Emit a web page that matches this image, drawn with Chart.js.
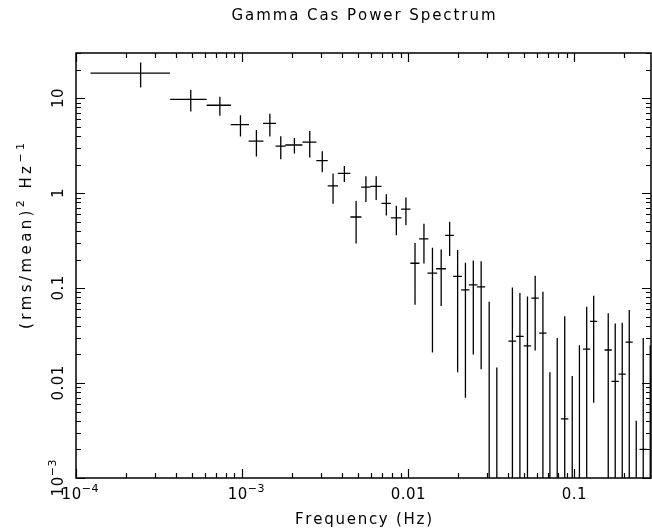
<!DOCTYPE html>
<html>
<head>
<meta charset="utf-8">
<script src="https://cdn.jsdelivr.net/npm/chart.js@4.4.1/dist/chart.umd.min.js"></script>
<style>
  html, body { margin: 0; padding: 0; background: #fff; }
  #wrap { width: 652px; height: 531px; position: relative; }
</style>
</head>
<body>
<div id="wrap"><canvas id="c" width="652" height="531"></canvas></div>
<script>
// ---- data (frequency in Hz, power in (rms/mean)^2 Hz^-1) ----
const freq = [2.45e-4, 4.91e-4, 7.35e-4, 9.78e-4, 1.22e-3, 1.47e-3, 1.71e-3, 2.066e-3, 2.556e-3, 3.04e-3,
  3.53e-3, 4.13e-3, 4.86e-3, 5.57e-3, 6.42e-3, 7.39e-3, 8.49e-3, 9.70e-3, 1.10e-2, 1.245e-2,
  1.401e-2, 1.581e-2, 1.778e-2, 1.986e-2, 2.213e-2, 2.468e-2, 2.752e-2, 3.076e-2, 3.42e-2, 4.245e-2,
  4.71e-2, 5.23e-2, 5.82e-2, 6.48e-2, 7.14e-2, 7.90e-2, 8.77e-2, 9.73e-2, 0.1075, 0.1189,
  0.1310, 0.1603, 0.1766, 0.1946, 0.2145, 0.2363, 0.2604, 0.2870];
const freqErr = [1.227e-4, 1.22e-4, 1.23e-4, 1.23e-4, 1.25e-4, 1.32e-4, 1.2e-4, 2.43e-4, 2.47e-4, 2.4e-4,
  2.52e-4, 3.6e-4, 3.7e-4, 3.6e-4, 4.9e-4, 4.8e-4, 6.2e-4, 6.3e-4, 6.9e-4, 8.0e-4,
  9.4e-4, 1.06e-3, 1.07e-3, 1.2e-3, 1.27e-3, 1.47e-3, 1.58e-3, 1.7e-3, 1.9e-3, 2.27e-3,
  2.5e-3, 2.7e-3, 3.0e-3, 3.3e-3, 3.6e-3, 4.0e-3, 4.6e-3, 4.9e-3, 5.4e-3, 6.0e-3,
  6.6e-3, 8.0e-3, 9.0e-3, 9.7e-3, 1.07e-2, 1.18e-2, 1.3e-2, 1.43e-2];
const power = [18.4, 9.75, 8.45, 5.29, 3.53, 5.43, 3.13, 3.22, 3.45, 2.21,
  1.195, 1.62, 0.562, 1.16, 1.18, 0.78, 0.55, 0.68, 0.183, 0.33,
  0.144, 0.16, 0.36, 0.133, 0.096, 0.108, 0.103, -0.005, -0.01, 0.0277,
  0.031, 0.0247, 0.0785, 0.0336, -0.01, -0.005, 0.0042, -0.01, -0.008, 0.0228,
  0.0446, 0.0223, 0.0104, 0.0124, 0.027, -0.02, 0.002, -0.005];
const powerErr = [5.4, 2.5, 1.9, 1.33, 1.1, 1.46, 0.85, 0.6, 1.07, 0.55,
  0.42, 0.31, 0.267, 0.35, 0.33, 0.197, 0.19, 0.22, 0.116, 0.148,
  0.123, 0.095, 0.142, 0.12, 0.089, 0.088, 0.089, 0.077, 0.0246, 0.074,
  0.0577, 0.057, 0.0565, 0.0578, 0.023, 0.0348, 0.0465, 0.0219, 0.033, 0.0408,
  0.0384, 0.032, 0.032, 0.0307, 0.0317, 0.024, 0.0278, 0.030];

const xTickValues = [1e-4, 1e-3, 0.01, 0.1];
const xTickText = ['10', '10', '0.01', '0.1'];
const xTickSup = ['\u22124', '\u22123', '', ''];
const yTickValues = [1e-3, 0.01, 0.1, 1, 10];
const yTickText = ['10', '0.01', '0.1', '1', '10'];
const yTickSup = ['\u22123', '', '', '', ''];

const titleText = 'Gamma Cas Power Spectrum';
const xTitle = 'Frequency (Hz)';

// ---- build segment data (error-bar crosses) ----
const hSeg = [], vSeg = [];
for (let i = 0; i < freq.length; i++) {
  if (power[i] > 0) {
    hSeg.push({x: freq[i] - freqErr[i], y: power[i]});
    hSeg.push({x: freq[i] + freqErr[i], y: power[i]});
    hSeg.push({x: null, y: null});
  }
  const lo = Math.max(power[i] - powerErr[i], 1e-5);
  vSeg.push({x: freq[i], y: power[i] + powerErr[i]});
  vSeg.push({x: freq[i], y: lo});
  vSeg.push({x: null, y: null});
}

const FONT = '"DejaVu Sans", "Liberation Sans", sans-serif';

function partsWidth(ctx, parts) {
  let w = 0, n = 0;
  for (const p of parts) {
    ctx.font = p.size + 'px ' + FONT;
    for (const ch of p.t) { w += ctx.measureText(ch).width; n++; }
  }
  return {w, n};
}
function drawParts(ctx, parts, cx, baseY, targetW, spacingDefault) {
  const {w, n} = partsWidth(ctx, parts);
  let sp = spacingDefault || 0;
  if (targetW) sp = (targetW - w) / Math.max(n - 1, 1);
  const total = w + sp * (n - 1);
  let x = cx - total / 2;
  ctx.textAlign = 'left';
  ctx.textBaseline = 'alphabetic';
  for (const p of parts) {
    ctx.font = p.size + 'px ' + FONT;
    for (const ch of p.t) {
      ctx.fillText(ch, x, baseY - (p.dy || 0));
      x += ctx.measureText(ch).width + sp;
    }
  }
}
function labelParts(base, sup) {
  const parts = [{t: base, size: 15}];
  if (sup) parts.push({t: sup, size: 11, dy: 7});
  return parts;
}

const framePlugin = {
  id: 'framePlugin',
  afterDraw(chart) {
    const ctx = chart.ctx, a = chart.chartArea;
    const xs = chart.scales.x, ys = chart.scales.y;
    ctx.save();
    ctx.strokeStyle = '#000';
    ctx.lineWidth = 1.5;
    ctx.strokeRect(a.left, a.top, a.right - a.left, a.bottom - a.top);

    ctx.lineWidth = 1.2;
    ctx.beginPath();
    for (let d = -5; d <= 2; d++) {
      for (let m = 1; m <= 9; m++) {
        const v = m * Math.pow(10, d);
        if (v >= xs.min * 0.999 && v <= xs.max * 1.001) {
          const px = Math.round(xs.getPixelForValue(v)) + 0.5;
          const len = m === 1 ? 9 : 5;
          ctx.moveTo(px, a.bottom); ctx.lineTo(px, a.bottom - len);
          ctx.moveTo(px, a.top); ctx.lineTo(px, a.top + len);
        }
        if (v >= ys.min * 0.999 && v <= ys.max * 1.001) {
          const py = Math.round(ys.getPixelForValue(v)) + 0.5;
          const len = m === 1 ? 9 : 5;
          ctx.moveTo(a.left, py); ctx.lineTo(a.left + len, py);
          ctx.moveTo(a.right, py); ctx.lineTo(a.right - len, py);
        }
      }
    }
    ctx.stroke();

    ctx.fillStyle = '#000';
    // x tick labels
    for (let i = 0; i < xTickValues.length; i++) {
      const px = xs.getPixelForValue(xTickValues[i]);
      drawParts(ctx, labelParts(xTickText[i], xTickSup[i]), px + (xTickSup[i] ? 4 : 0), 499, 0, 0.5);
    }
    // y tick labels (rotated)
    for (let i = 0; i < yTickValues.length; i++) {
      const py = ys.getPixelForValue(yTickValues[i]);
      ctx.save();
      ctx.translate(63, py);
      ctx.rotate(-Math.PI / 2);
      drawParts(ctx, labelParts(yTickText[i], yTickSup[i]), 0, 0, 0, 0.5);
      ctx.restore();
    }
    // title
    drawParts(ctx, [{t: titleText, size: 15}], (a.left + a.right) / 2, 20, 264);
    // x axis title
    drawParts(ctx, [{t: xTitle, size: 15}], (a.left + a.right) / 2, 524, 137);
    // y axis title
    ctx.save();
    ctx.translate(31, 236);
    ctx.rotate(-Math.PI / 2);
    drawParts(ctx, [
      {t: '(rms/mean)', size: 15},
      {t: '2', size: 11, dy: 7},
      {t: ' Hz', size: 15},
      {t: '\u22121', size: 11, dy: 7}
    ], 0, 0, 186);
    ctx.restore();
    ctx.restore();
  }
};

new Chart(document.getElementById('c'), {
  type: 'scatter',
  data: {
    datasets: [
      {data: hSeg, showLine: true, spanGaps: false, pointRadius: 0, borderColor: '#000', borderWidth: 1.3, tension: 0},
      {data: vSeg, showLine: true, spanGaps: false, pointRadius: 0, borderColor: '#000', borderWidth: 1.3, tension: 0}
    ]
  },
  options: {
    responsive: false,
    animation: false,
    events: [],
    layout: {padding: {left: 76, right: 1, top: 53, bottom: 53}},
    plugins: {legend: {display: false}, title: {display: false}, tooltip: {enabled: false}},
    scales: {
      x: {
        type: 'logarithmic', min: 1e-4, max: 0.29,
        grid: {display: false}, border: {display: false},
        ticks: {display: false},
        afterFit: s => { s.height = 0; }
      },
      y: {
        type: 'logarithmic', min: 1e-3, max: 30,
        grid: {display: false}, border: {display: false},
        ticks: {display: false},
        afterFit: s => { s.width = 0; }
      }
    }
  },
  plugins: [framePlugin]
});
</script>
</body>
</html>
